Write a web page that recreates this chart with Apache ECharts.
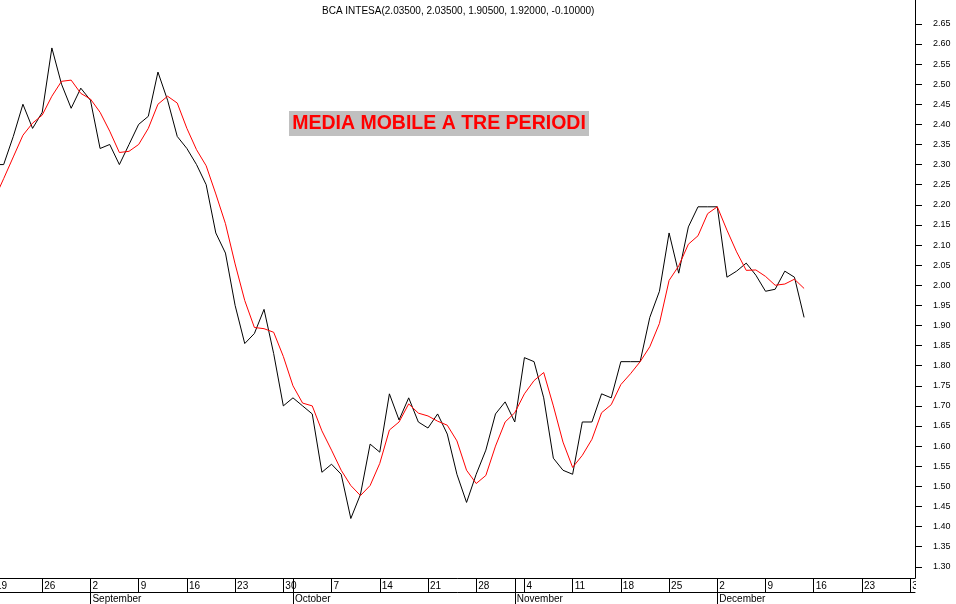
<!DOCTYPE html>
<html>
<head>
<meta charset="utf-8">
<script src="https://cdn.jsdelivr.net/npm/echarts@6.0.0/dist/echarts.min.js"></script>
<style>
  html, body { margin: 0; padding: 0; background: #ffffff; }
  #chart { width: 956px; height: 604px; }
</style>
</head>
<body>
<div id="chart"></div>
<script>
// Trading-day index 0 = Monday 19 August 2002 (one step per weekday)
const closeValues = [
  2.30, 2.30, 2.37, 2.45, 2.39, 2.43, 2.59, 2.50, 2.44, 2.49,
  2.46, 2.34, 2.35, 2.30, 2.35, 2.40, 2.42, 2.53, 2.46, 2.37,
  2.34, 2.30, 2.25, 2.13, 2.08, 1.95, 1.855, 1.88, 1.94, 1.83,
  1.70, 1.72, 1.70, 1.68, 1.535, 1.555, 1.53, 1.42, 1.48, 1.605,
  1.585, 1.73, 1.665, 1.72, 1.66, 1.645, 1.68, 1.63, 1.53, 1.46,
  1.53, 1.59, 1.68, 1.71, 1.66, 1.82, 1.81, 1.72, 1.57, 1.54,
  1.53, 1.66, 1.66, 1.73, 1.72, 1.81, 1.81, 1.81, 1.92, 1.985,
  2.13, 2.03, 2.145, 2.195, 2.195, 2.195, 2.02, 2.035, 2.055, 2.025,
  1.985, 1.99, 2.035, 2.02, 1.92
];
const ma3Values = [
  2.212, 2.265, 2.319, 2.373, 2.403, 2.423, 2.470, 2.507, 2.510, 2.477,
  2.463, 2.430, 2.383, 2.330, 2.333, 2.350, 2.390, 2.450, 2.470, 2.453,
  2.390, 2.337, 2.297, 2.227, 2.153, 2.053, 1.962, 1.895, 1.892, 1.883,
  1.823, 1.750, 1.707, 1.700, 1.638, 1.590, 1.540, 1.502, 1.477, 1.502,
  1.557, 1.640, 1.660, 1.705, 1.682, 1.675, 1.662, 1.652, 1.613, 1.540,
  1.507, 1.527, 1.600, 1.660, 1.683, 1.730, 1.763, 1.783, 1.700, 1.610,
  1.547, 1.577, 1.617, 1.683, 1.703, 1.753, 1.780, 1.810, 1.847, 1.905,
  2.012, 2.048, 2.102, 2.123, 2.178, 2.195, 2.137, 2.083, 2.037, 2.038,
  2.022, 2.000, 2.003, 2.015, 1.992
];
// Weekly (Monday) ticks
const dayTickIdx = [0, 5, 10, 15, 20, 25, 30, 35, 40, 45, 50, 55, 60, 65, 70, 75, 80, 85, 90, 95];
const dayTickLabels = ['19', '26', '2', '9', '16', '23', '30', '7', '14', '21', '28', '4', '11', '18', '25', '2', '9', '16', '23', '30'];
// Month starts
const monthIdx = [10, 31, 54, 75];
const monthLabels = ['September', 'October', 'November', 'December'];
// Price axis labels
const priceLabels = ['1.30', '1.35', '1.40', '1.45', '1.50', '1.55', '1.60', '1.65', '1.70', '1.75', '1.80', '1.85', '1.90', '1.95',
  '2.00', '2.05', '2.10', '2.15', '2.20', '2.25', '2.30', '2.35', '2.40', '2.45', '2.50', '2.55', '2.60', '2.65'];

const titleText = 'BCA INTESA(2.03500, 2.03500, 1.90500, 1.92000, -0.10000)';
const boxText = 'MEDIA MOBILE A TRE PERIODI';

const FONT = '"Liberation Sans", Arial, sans-serif';
const yMin = 1.2721, yMax = 2.7092;
const xMin = 0, xMax = 95.5;

const priceTickValues = priceLabels.map(Number);
const minorTickValues = [];
for (let k = 128; k <= 270; k++) minorTickValues.push(k / 100);

const closeData = closeValues.map((v, i) => [i, v]);
const maData = ma3Values.map((v, i) => [i, v]);

const chart = echarts.init(document.getElementById('chart'), null, { renderer: 'canvas' });
chart.setOption({
  animation: false,
  backgroundColor: '#ffffff',
  title: [{
    text: titleText,
    left: 322, top: 6, padding: 0,
    textStyle: { fontSize: 10, fontWeight: 'normal', color: '#000', fontFamily: FONT }
  }],
  grid: { left: -6, right: 41, top: 0, bottom: 26, containLabel: false, outerBoundsMode: 'none' },
  xAxis: [{
    type: 'value', min: xMin, max: xMax, position: 'bottom',
    splitLine: { show: false },
    axisLine: { show: true, onZero: false, lineStyle: { color: '#000', width: 1 } },
    axisTick: { show: true, customValues: dayTickIdx.concat([31, 54]), length: 14, lineStyle: { color: '#000', width: 1 } },
    axisLabel: {
      show: true, customValues: dayTickIdx,
      formatter: (v) => { const i = dayTickIdx.indexOf(Math.round(v)); return i >= 0 ? dayTickLabels[i] : ''; },
      align: 'left', margin: 3, padding: [0, 0, 0, 2],
      fontSize: 10, color: '#000', fontFamily: FONT
    }
  }, {
    type: 'value', min: xMin, max: xMax, position: 'bottom', offset: 14,
    splitLine: { show: false },
    axisLine: { show: true, onZero: false, lineStyle: { color: '#000', width: 1 } },
    axisTick: { show: true, customValues: monthIdx, length: 12, lineStyle: { color: '#000', width: 1 } },
    axisLabel: {
      show: true, customValues: monthIdx,
      formatter: (v) => { const i = monthIdx.indexOf(Math.round(v)); return i >= 0 ? monthLabels[i] : ''; },
      align: 'left', margin: 2, padding: [0, 0, 0, 2],
      fontSize: 10, color: '#000', fontFamily: FONT
    }
  }],
  yAxis: [{
    type: 'value', min: yMin, max: yMax, position: 'right',
    splitLine: { show: false },
    axisLine: { show: true, onZero: false, lineStyle: { color: '#000', width: 1 } },
    axisTick: { show: true, customValues: priceTickValues, length: 7, lineStyle: { color: '#000', width: 1 } },
    axisLabel: {
      show: true, customValues: priceTickValues,
      formatter: (v) => v.toFixed(2),
      margin: 18, padding: [3, 0, 0, 0], fontSize: 9, color: '#000', fontFamily: FONT
    }
  }, {
    type: 'value', min: yMin, max: yMax, position: 'right',
    splitLine: { show: false },
    axisLine: { show: false },
    axisTick: { show: true, customValues: minorTickValues, length: 4, lineStyle: { color: '#000', width: 1 } },
    axisLabel: { show: false }
  }],
  graphic: [
    { type: 'rect', shape: { x: 289, y: 111, width: 300, height: 25 }, style: { fill: '#c0c0c0' }, z: 50 },
    { type: 'text', x: 439, y: 124, z: 51,
      style: { text: boxText, align: 'center', verticalAlign: 'middle', fill: '#ff0000',
               font: 'bold 19.5px "Liberation Sans", Arial, sans-serif' } },
    { type: 'rect', shape: { x: 916, y: 579, width: 40, height: 13 }, style: { fill: '#ffffff' }, z: 100 }
  ],
  series: [{
    type: 'line', name: 'BCA INTESA', data: closeData, xAxisIndex: 0, yAxisIndex: 0,
    symbol: 'none', showSymbol: false, lineStyle: { color: '#000000', width: 1 }, z: 2
  }, {
    type: 'line', name: 'Media mobile 3', data: maData, xAxisIndex: 0, yAxisIndex: 0,
    symbol: 'none', showSymbol: false, lineStyle: { color: '#ff0000', width: 1 }, z: 3
  }]
});
</script>
</body>
</html>
